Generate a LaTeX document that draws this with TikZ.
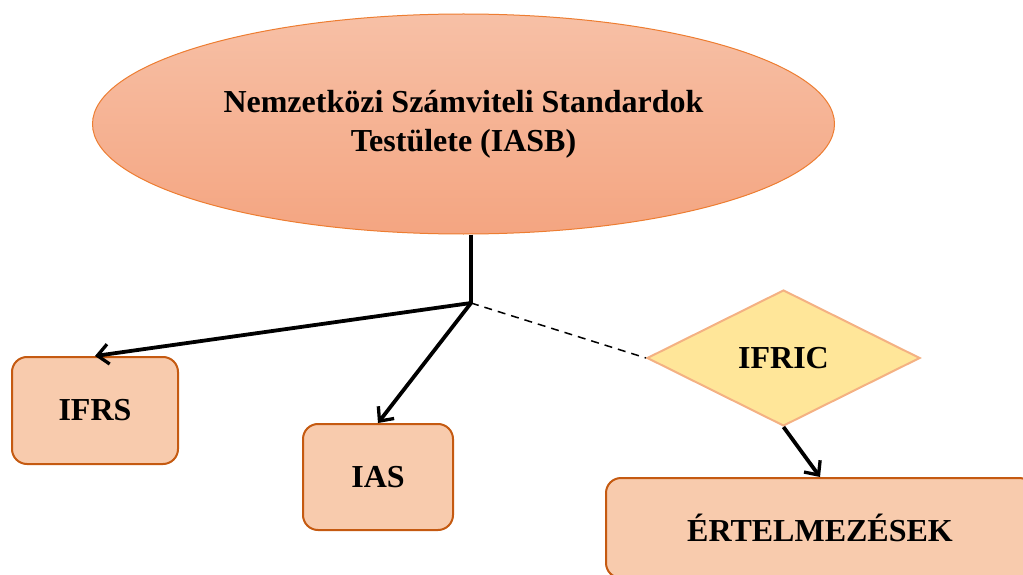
\documentclass[tikz,border=0pt]{standalone}
\usepackage{fontspec}
\setmainfont{Liberation Serif}
\usetikzlibrary{shapes.geometric,arrows.meta}
\definecolor{boxfill}{HTML}{F8CBAD}
\definecolor{boxline}{HTML}{C55A11}
\definecolor{elltop}{HTML}{F7C0A6}
\definecolor{ellbot}{HTML}{F4A581}
\definecolor{ellline}{HTML}{ED7D31}
\definecolor{dfill}{HTML}{FFE699}
\definecolor{dline}{HTML}{F4B183}
\tikzset{
  rbox/.style={draw=boxline, line width=2pt, fill=boxfill, rounded corners=15pt, inner sep=0pt, font=\fontsize{32}{37}\selectfont\bfseries},
  conn/.style={line width=3.8pt, -{Straight Barb[length=11pt,width=20pt,line width=3.3pt]}},
}
\begin{document}
\begin{tikzpicture}[x=1pt,y=-1pt]
\useasboundingbox (0,0) rectangle (1023,575);
\clip (0,0) rectangle (1023,575);
\node[ellipse, draw=ellline, line width=1pt, top color=elltop, bottom color=ellbot, minimum width=742pt, minimum height=220pt, inner sep=0pt, align=center, font=\fontsize{32}{39}\selectfont\bfseries] (iasb) at (463.5,124) {Nemzetközi Számviteli Standardok\\Testülete (IASB)};
\node[rbox, minimum width=166pt, minimum height=107pt] (ifrs) at (95,410.5) {IFRS};
\node[rbox, minimum width=150pt, minimum height=106pt] (ias) at (378,477) {IAS};
\node[diamond, draw=dline, line width=2pt, fill=dfill, minimum width=273pt, minimum height=136pt, inner sep=0pt, font=\fontsize{32}{37}\selectfont\bfseries] (ifric) at (783.5,358) {IFRIC};
\node[rbox, minimum width=428pt, minimum height=100pt] (ert) at (820,528) {ÉRTELMEZÉSEK};
\coordinate (j) at (471,303);
\draw[line width=3.8pt] (j |- iasb.south) -- (j);
\draw[conn] (j) -- (ifrs.north);
\draw[conn] (j) -- (ias.north);
\draw[line width=1.5pt, dash pattern=on 8pt off 6pt] (j) -- (ifric.west);
\draw[conn] (ifric.south) -- (ert.north);
\end{tikzpicture}
\end{document}
